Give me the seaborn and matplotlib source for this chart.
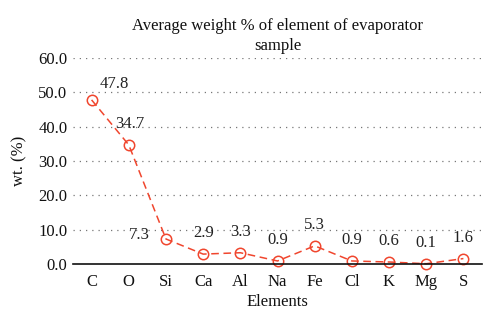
import matplotlib
matplotlib.use("Agg")
import matplotlib.pyplot as plt
import seaborn as sns
import pandas as pd

elements = ["C", "O", "Si", "Ca", "Al", "Na", "Fe", "Cl", "K", "Mg", "S"]
weights = [47.8, 34.7, 7.3, 2.9, 3.3, 0.9, 5.3, 0.9, 0.6, 0.1, 1.6]
# label offsets (points) relative to each marker, text centred on the offset
label_offsets = [(16.5, 11.5), (1, 15), (-19, 3), (0, 15), (0, 15), (0, 15),
                 (0, 15), (0, 15), (0, 15), (0, 15), (0, 15)]
y_ticks = [0, 10, 20, 30, 40, 50, 60]

sns.set_theme(style="white")
plt.rcParams["font.family"] = ["Liberation Serif", "DejaVu Serif"]

df = pd.DataFrame({"Elements": elements, "wt": weights})

fig = plt.figure(figsize=(5.0, 3.24), dpi=100)
ax = fig.add_axes([0.146, 0.185, 0.818, 0.636])

color = "#f0462e"
sns.lineplot(data=df, x="Elements", y="wt", ax=ax, color=color,
             linestyle=(0, (5, 3)), linewidth=1.1, sort=False,
             marker="o", markersize=7.5, markerfacecolor="none",
             markeredgecolor=color, markeredgewidth=1.1, clip_on=False)

for i, (v, off) in enumerate(zip(weights, label_offsets)):
    ax.annotate(f"{v:.1f}", (i, v), xytext=off, textcoords="offset points",
                ha="center", va="center", fontsize=12, color="#222222")

ax.set_xlim(-0.5, len(elements) - 0.5)
ax.set_ylim(0, 60)
ax.set_yticks(y_ticks)
ax.set_yticklabels([f"{t:.1f}" for t in y_ticks])
for t in y_ticks[1:]:
    ax.axhline(t, color="#777777", linestyle=(0, (1, 4)), linewidth=0.9, zorder=0)

for s in ["top", "right", "left"]:
    ax.spines[s].set_visible(False)
ax.spines["bottom"].set_color("#111111")
ax.spines["bottom"].set_linewidth(1.2)
ax.tick_params(axis="y", length=0, labelsize=12, colors="#111111", pad=4)
ax.tick_params(axis="x", length=0, labelsize=12, colors="#111111", pad=7)
ax.set_xlabel("Elements", fontsize=12, color="#111111", labelpad=3)
ax.set_ylabel("wt. (%)", fontsize=12, color="#111111", labelpad=8)
ax.set_title("Average weight % of element of evaporator\nsample", fontsize=12,
             color="#111111", pad=6, linespacing=1.3)

fig.savefig("out.png", dpi=100)
